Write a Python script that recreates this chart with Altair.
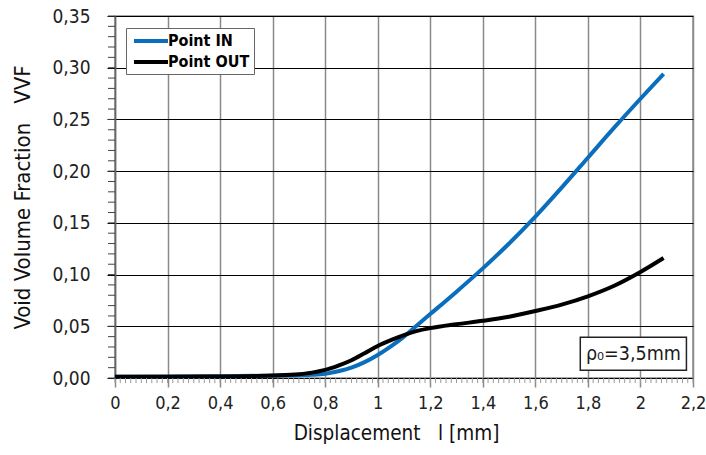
import altair as alt
import pandas as pd

# ---- data ----
disp_in = [0.0, 0.2, 0.4, 0.6, 0.7, 0.75, 0.8, 0.85, 0.9, 0.95, 1.0, 1.05, 1.1, 1.15,
           1.2, 1.3, 1.4, 1.5, 1.6, 1.7, 1.8, 1.9, 2.0, 2.088]
vvf_in = [0.0012, 0.0014, 0.0018, 0.0022, 0.0027, 0.0031, 0.0040, 0.0065, 0.0100, 0.0153,
          0.0222, 0.0305, 0.0400, 0.0510, 0.0618, 0.0835, 0.106, 0.130, 0.156, 0.184,
          0.213, 0.242, 0.270, 0.294]

disp_out = [0.0, 0.2, 0.4, 0.6, 0.7, 0.75, 0.8, 0.85, 0.9, 0.95, 1.0, 1.05, 1.1, 1.15,
            1.2, 1.3, 1.4, 1.5, 1.6, 1.7, 1.8, 1.9, 2.0, 2.088]
vvf_out = [0.0012, 0.0013, 0.0015, 0.0025, 0.0037, 0.0052, 0.0078, 0.0120, 0.0172, 0.0240,
           0.0310, 0.0366, 0.0415, 0.0455, 0.0482, 0.0520, 0.0553, 0.0593, 0.0648, 0.0710,
           0.0790, 0.0892, 0.1025, 0.1160]

series_names = ["Point IN", "Point OUT"]
series_colors = ["#0A6EBD", "#000000"]

x_ticks = [0, 0.2, 0.4, 0.6, 0.8, 1.0, 1.2, 1.4, 1.6, 1.8, 2.0, 2.2]
y_ticks = [0, 0.05, 0.10, 0.15, 0.20, 0.25, 0.30, 0.35]
x_minor = [round(i * 0.02, 2) for i in range(111)]
y_minor = [round(i * 0.01, 2) for i in range(36)]

note_text = ["\u03c1\u2080=3,5mm"]
note_box = {"x": [1.771], "x2": [2.175], "y": [0.0395], "y2": [0.0075]}

FONT = "Liberation Sans Narrow, Arial Narrow, DejaVu Sans Condensed, sans-serif"

df = pd.DataFrame({
    "x": disp_in + disp_out,
    "y": vvf_in + vvf_out,
    "series": [series_names[0]] * len(disp_in) + [series_names[1]] * len(disp_out),
})

x_scale = alt.Scale(domain=[0, 2.2], nice=False, zero=False)
y_scale = alt.Scale(domain=[0, 0.35], nice=False, zero=False)

x_axis = alt.Axis(
    values=x_ticks, title="Displacement\u00a0\u00a0 l [mm]",
    labelExpr="replace(format(datum.value, '.1~f'), '.', ',')",
    grid=True, gridColor="#8a8a8a", gridWidth=1.5,
    domainColor="#000000", domainWidth=1,
    tickColor="#8a8a8a", tickSize=9, tickWidth=1.5,
    labelFont=FONT, labelFontSize=18, labelColor="#222222", labelPadding=7,
    titleFont=FONT, titleFontSize=20.5, titleFontWeight="normal", titleColor="#111111",
    titlePadding=11, titleX=281, labelFlush=False, labelOverlap=False,
)
y_axis = alt.Axis(
    values=y_ticks, title="Void Volume Fraction\u00a0\u00a0 VVF",
    labelExpr="replace(format(datum.value, '.2f'), '.', ',')",
    grid=True, gridColor="#000000", gridWidth=1,
    domainColor="#666666", domainWidth=1.5,
    tickColor="#000000", tickSize=8, tickWidth=1,
    labelFont=FONT, labelFontSize=19, labelColor="#222222", labelPadding=17,
    titleFont=FONT, titleFontSize=22, titleFontWeight="normal", titleColor="#111111",
    titlePadding=17, labelFlush=False, labelOverlap=False,
)

lines = alt.Chart(df).mark_line(strokeWidth=4, interpolate="monotone").encode(
    x=alt.X("x:Q", scale=x_scale, axis=x_axis),
    y=alt.Y("y:Q", scale=y_scale, axis=y_axis),
    color=alt.Color(
        "series:N",
        scale=alt.Scale(domain=series_names, range=series_colors),
        legend=alt.Legend(
            title=None, orient="none", legendX=11, legendY=12,
            fillColor="white", strokeColor="#666666", padding=4,
            symbolType="M-2.43,0H2.43", symbolSize=196, symbolStrokeWidth=4,
            symbolOffset=12,
            labelFont=FONT, labelFontSize=16, labelFontWeight="bold",
            labelColor="#000000", labelOffset=8, rowPadding=4,
        ),
    ),
    order=alt.Order("x:Q"),
)

xminor = alt.Chart(pd.DataFrame({"x": x_minor})).mark_rule(
    color="#9a9a9a", strokeWidth=1
).encode(x=alt.X("x:Q", scale=x_scale), y=alt.value(362), y2=alt.value(367))

yminor = alt.Chart(pd.DataFrame({"y": y_minor})).mark_rule(
    color="#444444", strokeWidth=1
).encode(y=alt.Y("y:Q", scale=y_scale), x=alt.value(-7), x2=alt.value(0))

box = alt.Chart(pd.DataFrame(note_box)).mark_rect(
    fill="white", stroke="#222222", strokeWidth=1.5
).encode(
    x=alt.X("x:Q", scale=x_scale), x2="x2:Q",
    y=alt.Y("y:Q", scale=y_scale), y2="y2:Q",
)

note = alt.Chart(pd.DataFrame({
    "x": [(note_box["x"][0] + note_box["x2"][0]) / 2],
    "y": [(note_box["y"][0] + note_box["y2"][0]) / 2],
    "t": note_text,
})).mark_text(font=FONT, fontSize=19.5, color="#1a1a1a", baseline="middle", align="center").encode(
    x=alt.X("x:Q", scale=x_scale), y=alt.Y("y:Q", scale=y_scale), text="t:N"
)

chart = alt.layer(lines, xminor, yminor, box, note).properties(
    width=578, height=362,
    autosize=alt.AutoSizeParams(type="none"),
    padding={"left": 115, "top": 16, "right": 13, "bottom": 77},
    background="white",
).configure_view(stroke="#8a8a8a", strokeWidth=1.5)

chart.save("out.html", embed_options={"renderer": "svg", "actions": False})
